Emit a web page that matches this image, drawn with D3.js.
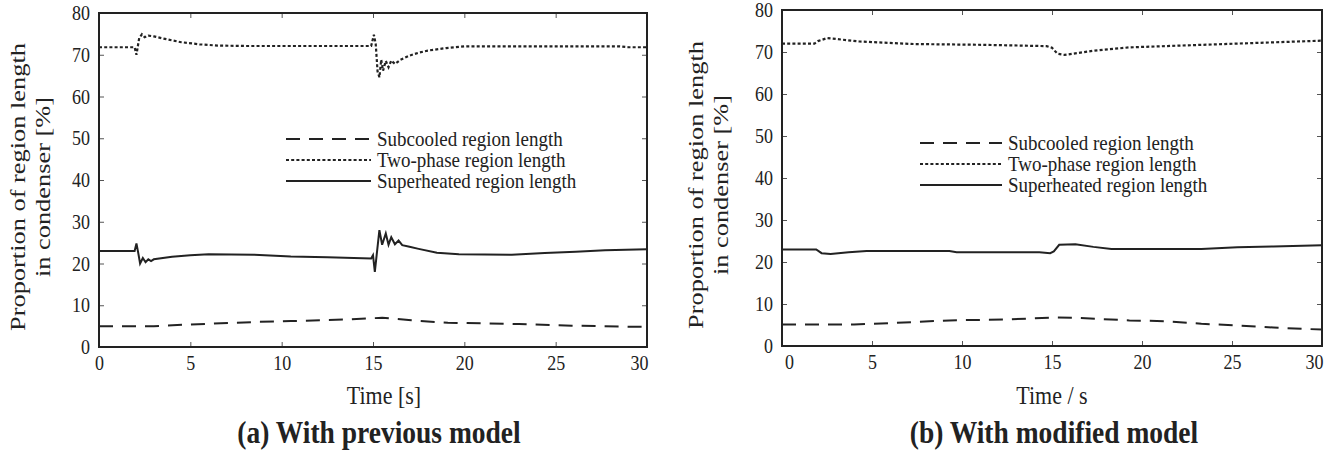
<!DOCTYPE html>
<html>
<head>
<meta charset="utf-8">
<script src="https://cdn.jsdelivr.net/npm/d3@7"></script>
<style>
  body { margin: 0; background: #fff; }
  text { font-family: "Liberation Serif", "Times New Roman", serif; fill: #222; }
  /* the source figure is stretched a little vertically */
  .tall { transform-box: fill-box; transform-origin: center; transform: scaleY(1.15); }
</style>
</head>
<body>
<script>
// ---------------------------- data ----------------------------
// [time s, proportion %]
var seriesNames = ["Subcooled region length", "Two-phase region length", "Superheated region length"];
var xTicks = [0, 5, 10, 15, 20, 25, 30];
var yTicks = [0, 10, 20, 30, 40, 50, 60, 70, 80];

// (a) previous model
var subA = [[0,5.0],[3,5.0],[5,5.4],[8.6,6.0],[10.5,6.2],[13.6,6.6],[15.5,7.0],[17.1,6.4],[19.1,5.8],[23,5.5],[25.9,5.1],[30,4.8]];
var twoA = [[0,71.8],[1.95,71.8],[2.05,70.0],[2.2,74.0],[2.35,74.9],[2.5,74.2],[2.7,74.6],[3.0,74.4],[3.5,73.9],[4.5,73.0],[5.5,72.5],[6.5,72.2],[8,72.1],[14.9,72.1],[15.05,74.8],[15.15,72.5],[15.25,66.0],[15.35,64.6],[15.45,68.8],[15.55,66.2],[15.7,68.5],[15.85,67.0],[16.0,68.6],[16.2,67.8],[16.5,68.8],[17,69.8],[17.5,70.5],[18,71.0],[19,71.6],[20,72.0],[28.5,72.0],[29,71.8],[30,71.8]];
var supA = [[0,23.0],[1.95,23.0],[2.05,24.8],[2.15,22.5],[2.25,20.0],[2.4,21.3],[2.55,20.3],[2.7,21.0],[2.85,20.6],[3.0,21.0],[4,21.6],[5,22.0],[6,22.2],[8.5,22.1],[10.5,21.7],[12.5,21.5],[14.9,21.2],[15.0,22.0],[15.1,18.0],[15.2,22.0],[15.35,28.0],[15.5,24.5],[15.7,27.2],[15.85,24.5],[16.0,26.3],[16.2,24.6],[16.4,25.5],[16.6,24.4],[17,24.0],[17.5,23.5],[18.5,22.6],[19.7,22.2],[22.6,22.1],[24.4,22.5],[26.1,22.8],[27.7,23.2],[30,23.4]];

// (b) modified model
var subB = [[0,5.1],[4,5.1],[5.1,5.3],[7.3,5.7],[9.3,6.1],[12.3,6.3],[15.3,6.8],[16.3,6.7],[19.3,6.1],[21.3,5.9],[23.3,5.3],[25.3,4.9],[27.3,4.4],[30,3.9]];
var twoB = [[0,72.0],[1.8,72.0],[2.0,72.6],[2.5,73.3],[3,73.1],[4.3,72.5],[7.3,71.9],[11.3,71.7],[14.7,71.4],[15.0,71.0],[15.3,69.6],[15.7,69.3],[17.3,70.3],[19.3,71.1],[23.3,71.7],[27.3,72.3],[30,72.7]];
var supB = [[0,23.0],[1.9,23.0],[2.2,22.1],[2.7,21.9],[3.7,22.3],[4.7,22.6],[9.3,22.6],[9.7,22.3],[14.3,22.3],[14.9,22.1],[15.1,22.5],[15.4,24.1],[16.3,24.2],[17.3,23.6],[18.3,23.1],[23.3,23.1],[25.3,23.5],[27.3,23.7],[30,24.0]];

var W = 1333, H = 452;
var dashes = ["14,9", "3,2.2", null];

var svg = d3.select("body").append("svg")
  .attr("width", W)
  .attr("height", H);

// draw one panel
function panel(o) {
  var x = d3.scaleLinear().domain([0, 30]).range([o.left, o.right]);
  var y = d3.scaleLinear().domain([0, 80]).range([o.bottom, o.top]);
  var g = svg.append("g");

  var line = d3.line().x(d => x(d[0])).y(d => y(d[1]));
  [o.sub, o.two, o.sup].forEach(function(s, i) {
    g.append("path")
      .datum(s)
      .attr("d", line)
      .attr("fill", "none")
      .attr("stroke", "#222")
      .attr("stroke-width", i == 1 ? 2.2 : 2)
      .attr("stroke-dasharray", dashes[i]);
  });

  // axes, matlab style ticks pointing in
  var bx = g.append("g").attr("transform", "translate(0," + o.bottom + ")")
    .call(d3.axisBottom(x).tickValues(xTicks).tickSizeInner(-5).tickSizeOuter(0).tickPadding(9));
  g.append("g").attr("transform", "translate(0," + o.top + ")")
    .call(d3.axisTop(x).tickValues(xTicks).tickSizeInner(-5).tickSizeOuter(0).tickFormat(""));
  g.append("g").attr("transform", "translate(" + o.left + ",0)")
    .call(d3.axisLeft(y).tickValues(yTicks).tickSizeInner(-5).tickSizeOuter(0).tickPadding(9));
  g.append("g").attr("transform", "translate(" + o.right + ",0)")
    .call(d3.axisRight(y).tickValues(yTicks).tickSizeInner(-5).tickSizeOuter(0).tickFormat(""));
  g.selectAll(".domain").remove();
  g.selectAll(".tick line").attr("stroke", "#555");
  g.selectAll(".tick text").classed("tall", true).style("font-size", "18px").attr("fill", "#222");
  bx.selectAll(".tick text").filter(d => d === 30).attr("x", -8);
  if (o.shift0) bx.selectAll(".tick text").filter(d => d === 0).attr("x", o.shift0);

  g.append("rect")
    .attr("x", o.left).attr("y", o.top)
    .attr("width", o.right - o.left).attr("height", o.bottom - o.top)
    .attr("fill", "none").attr("stroke", "#222").attr("stroke-width", 2);

  // legend
  seriesNames.forEach(function(n, i) {
    var ly = o.legY + i * 21;
    g.append("line")
      .attr("x1", o.legX).attr("x2", o.legX + o.legW)
      .attr("y1", ly).attr("y2", ly)
      .attr("stroke", "#222").attr("stroke-width", 2)
      .attr("stroke-dasharray", dashes[i]);
    g.append("text")
      .attr("class", "tall")
      .attr("x", o.legX + o.legW + 6).attr("y", ly)
      .attr("dy", "0.33em")
      .style("font-size", "19px")
      .text(n);
  });

  // titles
  var ylab = g.append("text")
    .attr("transform", "translate(" + o.yLabX + "," + ((o.top + o.bottom) / 2 + 7) + ") rotate(-90) scale(1.2,1)")
    .attr("text-anchor", "middle")
    .style("font-size", "22px");
  ylab.append("tspan").attr("x", 0).attr("dy", 0).text("Proportion of region length");
  ylab.append("tspan").attr("x", 0).attr("dy", 25).text("in condenser [%]");

  g.append("text")
    .attr("class", "tall")
    .attr("x", (o.left + o.right) / 2 + o.xtShift).attr("y", 403)
    .attr("text-anchor", "middle")
    .style("font-size", "22px")
    .text(o.xTitle);

  g.append("text")
    .attr("class", "tall")
    .attr("x", (o.left + o.right) / 2 + o.capShift).attr("y", 442)
    .attr("text-anchor", "middle")
    .style("font-size", "27.5px")
    .style("font-weight", "bold")
    .text(o.caption);
}

panel({
  left: 99, right: 647, top: 13, bottom: 347,
  sub: subA, two: twoA, sup: supA,
  legX: 286, legW: 85, legY: 139,
  yLabX: 25, xTitle: "Time [s]", xtShift: 11,
  caption: "(a) With previous model", capShift: 6
});

panel({
  left: 782, right: 1322, top: 10, bottom: 346,
  sub: subB, two: twoB, sup: supB,
  legX: 920, legW: 82, legY: 143,
  yLabX: 703, xTitle: "Time / s", xtShift: 0,
  caption: "(b) With modified model", capShift: 2, shift0: 7
});
</script>
</body>
</html>
